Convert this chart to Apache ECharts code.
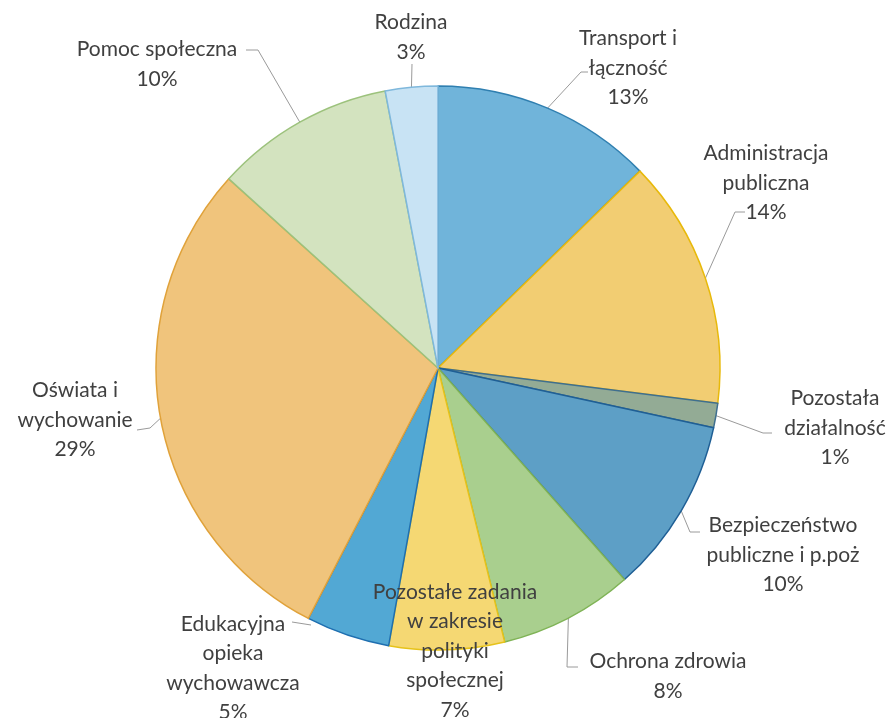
<!DOCTYPE html>
<html>
<head>
<meta charset="utf-8">
<script src="https://cdn.jsdelivr.net/npm/echarts@6/dist/echarts.min.js"></script>
<style>
  html, body { margin: 0; padding: 0; background: #fff; }
  #chart { width: 887px; height: 718px; }
</style>
</head>
<body>
<div id="chart"></div>
<script>
// categories, clockwise from 12 o'clock
const categories = [
  'Transport i\nłączność',
  'Administracja\npubliczna',
  'Pozostała\ndziałalność',
  'Bezpieczeństwo\npubliczne i p.poż',
  'Ochrona zdrowia',
  'Pozostałe zadania\nw zakresie\npolityki\nspołecznej',
  'Edukacyjna\nopieka\nwychowawcza',
  'Oświata i\nwychowanie',
  'Pomoc społeczna',
  'Rodzina'
];
// share of spending, %
const shares = [12.7, 14.3, 1.4, 10.1, 7.7, 6.6, 4.8, 29.1, 10.3, 3.0];

// slice fill / border colours
const fills   = ['#70b4da', '#f2cd72', '#93ab95', '#5d9fc6', '#a9cf8e', '#f5d873', '#52a8d4', '#f0c47c', '#d3e3bf', '#c8e3f4'];
const borders = ['#2f7fb0', '#e8b90a', '#3f6f8f', '#1f5f95', '#7fb356', '#e6c21a', '#1f6fb0', '#e0a23a', '#9cc27c', '#7fb8dc'];

// label block centres and leader-line bends (px); start = own first point instead of slice edge
const labelLayoutTable = [
  { x: 628, y: 68,  line: [[581, 72], [588, 72]] },
  { x: 766, y: 183, line: [[735, 212], [745, 212]] },
  { x: 835, y: 428, line: [[763, 433], [772, 433]] },
  { x: 783, y: 555, line: [[690, 532], [700, 532]] },
  { x: 668, y: 676, line: [[567, 667], [578, 667]] },
  { x: 455, y: 651, line: null },
  { x: 233, y: 668, line: [[311, 625], [292, 622]], start: true },
  { x: 75,  y: 420, line: [[150, 428], [137, 430]] },
  { x: 157, y: 64,  line: [[258, 50], [246, 50]] },
  { x: 411, y: 37,  line: [[412, 64]] }
];

const chart = echarts.init(document.getElementById('chart'));

const pieData = categories.map((name, i) => ({
  name: name,
  value: shares[i],
  itemStyle: { color: fills[i], borderColor: borders[i] },
  labelLine: { show: labelLayoutTable[i].line !== null }
}));

chart.setOption({
  backgroundColor: '#ffffff',
  animation: false,
  series: [{
    type: 'pie',
    center: [438, 368],
    radius: 282,
    startAngle: 90,
    clockwise: true,
    avoidLabelOverlap: false,
    itemStyle: { borderWidth: 1.5 },
    label: {
      show: true,
      position: 'outside',
      color: '#404040',
      fontFamily: 'Lato',
      fontSize: 21,
      lineHeight: 29.5,
      align: 'center',
      formatter: p => p.name + '\n' + Math.round(p.percent) + '%'
    },
    labelLine: {
      show: true,
      lineStyle: { color: '#9a9a9a', width: 1 }
    },
    labelLayout: function (params) {
      const L = labelLayoutTable[params.dataIndex];
      const out = { x: L.x, y: L.y, align: 'center', verticalAlign: 'middle' };
      if (L.line && L.start) {
        out.labelLinePoints = L.line;
      } else if (L.line && params.labelLinePoints) {
        out.labelLinePoints = [params.labelLinePoints[0]].concat(L.line);
      }
      return out;
    },
    data: pieData
  }]
});
</script>
</body>
</html>
